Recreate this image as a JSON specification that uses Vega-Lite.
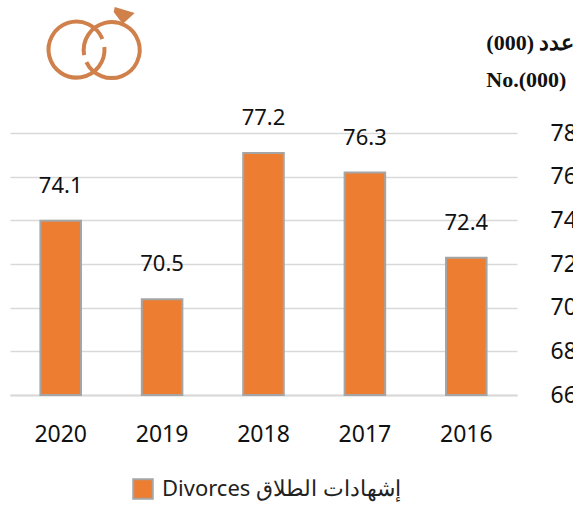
{
"$schema":"https://vega.github.io/schema/vega-lite/v6.json",
"width":507,"height":262,
"autosize":"none",
"padding":{"left":10,"top":133,"right":56,"bottom":111},
"background":"white",
"config":{"view":{"stroke":null},"font":"Noto Sans"},
"datasets":{
"bars":[
{"year":"2020","value":74.1,"base":66,"series":"Divorces إشهادات الطلاق"},
{"year":"2019","value":70.5,"base":66,"series":"Divorces إشهادات الطلاق"},
{"year":"2018","value":77.2,"base":66,"series":"Divorces إشهادات الطلاق"},
{"year":"2017","value":76.3,"base":66,"series":"Divorces إشهادات الطلاق"},
{"year":"2016","value":72.4,"base":66,"series":"Divorces إشهادات الطلاق"}],
"notes":[
{"year":"2016","value":82.12,"label":"(000) عدد"},
{"year":"2016","value":80.43,"label":"No.(000)"}],
"icon":[{"year":"2020","value":81.8}]
},
"layer":[
{"data":{"name":"bars"},
"mark":{"type":"bar","stroke":"#A5A5A5","strokeWidth":2,"yOffset":2.5,"y2Offset":0},
"encoding":{
"x":{"field":"year","type":"nominal","sort":"descending","title":null,
"scale":{"paddingInner":0.6,"paddingOuter":0.3},
"axis":{"labelAngle":0,"labelFontSize":23,"labelColor":"#111111","labelPadding":28,"ticks":false,"domainColor":"#D9D9D9","domainWidth":2,"grid":false}},
"y":{"field":"value","type":"quantitative","title":null,
"scale":{"domain":[66,78],"nice":false,"zero":false},
"axis":{"orient":"right","values":[66,68,70,72,74,76,78],"grid":true,"gridColor":"#D9D9D9","gridWidth":1.5,"domain":false,"ticks":false,"labelFontSize":23,"labelColor":"#111111","labelAlign":"left","labelPadding":33,"labelBaseline":"middle"}},
"y2":{"field":"base"},
"color":{"field":"series","type":"nominal","title":null,
"scale":{"range":["#ED7D31"]},
"legend":{"orient":"none","legendX":122,"legendY":345,"labelFontSize":22,"labelColor":"#222222","symbolType":"square","symbolSize":380,"symbolFillColor":"#ED7D31","symbolOpacity":1,"symbolStrokeColor":"#A5A5A5","symbolStrokeWidth":2,"labelOffset":8,"labelLimit":320}}
}},
{"data":{"name":"bars"},
"mark":{"type":"text","dy":-32.5,"fontSize":22,"color":"#111111"},
"encoding":{
"x":{"field":"year","type":"nominal","sort":"descending"},
"y":{"field":"value","type":"quantitative"},
"text":{"field":"value","type":"quantitative","format":".1f"}
}},
{"data":{"name":"notes"},
"mark":{"type":"text","align":"left","dx":20,"fontSize":22,"fontWeight":"bold","font":"Liberation Serif","color":"#111111"},
"encoding":{
"x":{"field":"year","type":"nominal","sort":"descending"},
"y":{"field":"value","type":"quantitative"},
"text":{"field":"label","type":"nominal"}
}},
{"data":{"name":"icon"},
"mark":{"type":"point","filled":false,"size":10000,"stroke":"#D0814B","strokeWidth":4,"opacity":1,
"shape":"M .874 -.06 A .56 .56 0 1 1 .835 -.22 M .469 .1 A .56 .56 0 1 1 .514 .24"},
"encoding":{
"x":{"field":"year","type":"nominal","sort":"descending"},
"y":{"field":"value","type":"quantitative"}
}},
{"data":{"name":"icon"},
"mark":{"type":"point","filled":true,"size":10000,"fill":"#D0814B","opacity":1,
"shape":"M 1.08 -.86 L 1.48 -.74 L 1.24 -.52 L 1.06 -.76 Z"},
"encoding":{
"x":{"field":"year","type":"nominal","sort":"descending"},
"y":{"field":"value","type":"quantitative"}
}}
]
}
